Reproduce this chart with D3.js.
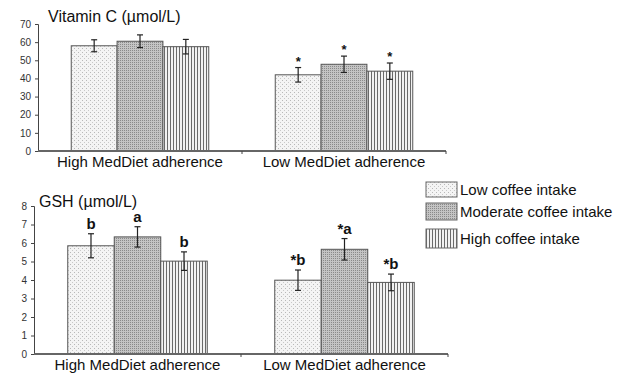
<!DOCTYPE html>
<html>
<head>
<meta charset="utf-8">
<script src="https://cdn.jsdelivr.net/npm/d3@7"></script>
<style>
  body { margin: 0; background: #fff; }
  text { font-family: "Liberation Sans", Arial, sans-serif; }
</style>
</head>
<body>
<script>
// data
var groups = ["High MedDiet adherence", "Low MedDiet adherence"];
var series = ["Low coffee intake", "Moderate coffee intake", "High coffee intake"];

var vitcValues = [[58, 60.5, 57.5], [42, 47.8, 44]];
var vitcErrors = [[3.3, 3.5, 4], [4, 4.5, 4.5]];
var vitcMarks = [["", "", ""], ["*", "*", "*"]];
var vitcTicks = [0, 10, 20, 30, 40, 50, 60, 70];

var gshValues = [[5.85, 6.33, 5.02], [3.99, 5.66, 3.87]];
var gshErrors = [[0.65, 0.55, 0.5], [0.55, 0.58, 0.45]];
var gshMarks = [["b", "a", "b"], ["*b", "*a", "*b"]];
var gshTicks = [0, 1, 2, 3, 4, 5, 6, 7, 8];

var patIds = ["pLow", "pMod", "pHigh"];

var svg = d3.select("body").append("svg")
    .attr("width", 620)
    .attr("height", 374);

// fill patterns
var defs = svg.append("defs");
var p1 = defs.append("pattern").attr("id", "pLow")
    .attr("patternUnits", "userSpaceOnUse").attr("width", 4).attr("height", 4);
p1.append("rect").attr("width", 4).attr("height", 4).attr("fill", "#f4f4f4");
p1.append("rect").attr("x", 0).attr("y", 0).attr("width", 1).attr("height", 1).attr("fill", "#b8b8b8");
p1.append("rect").attr("x", 2).attr("y", 2).attr("width", 1).attr("height", 1).attr("fill", "#c8c8c8");

var p2 = defs.append("pattern").attr("id", "pMod")
    .attr("patternUnits", "userSpaceOnUse").attr("width", 2).attr("height", 2);
p2.append("rect").attr("width", 2).attr("height", 2).attr("fill", "#c4c4c4");
p2.append("rect").attr("x", 0).attr("y", 0).attr("width", 1).attr("height", 1).attr("fill", "#8a8a8a");

var p3 = defs.append("pattern").attr("id", "pHigh")
    .attr("patternUnits", "userSpaceOnUse").attr("width", 3).attr("height", 3);
p3.append("rect").attr("width", 3).attr("height", 3).attr("fill", "#f2f2f2");
p3.append("rect").attr("x", 0).attr("width", 1).attr("height", 3).attr("fill", "#6a6a6a");

function panel(opt) {
    var x0 = d3.scaleBand().domain(groups).range([opt.left, opt.right]);
    var pad = x0.bandwidth() * 0.163;
    var x1 = d3.scaleBand().domain(series).range([pad, x0.bandwidth() - pad]);
    var y = d3.scaleLinear().domain([0, opt.max]).range([opt.bottom, opt.top]);

    var g = svg.append("g");

    // y axis
    var ya = g.append("g")
        .attr("transform", "translate(" + opt.left + ",0)")
        .call(d3.axisLeft(y).tickValues(opt.ticks).tickSize(3).tickPadding(4));
    ya.select(".domain").attr("stroke", "#444");
    ya.selectAll(".tick line").attr("stroke", "#444");
    ya.selectAll(".tick text").attr("fill", "#333").style("font-size", "10px");

    // title
    g.append("text")
        .attr("x", opt.titleX).attr("y", opt.titleY)
        .style("font-size", "16px").attr("fill", "#111")
        .text(opt.title);

    // bars
    groups.forEach(function (grp, gi) {
        var gg = g.append("g").attr("transform", "translate(" + x0(grp) + ",0)");
        var rows = series.map(function (s, si) {
            return { s: s, i: si, v: opt.values[gi][si], e: opt.errors[gi][si], m: opt.marks[gi][si] };
        });
        gg.selectAll("rect.bar").data(rows).enter().append("rect")
            .attr("class", "bar")
            .attr("x", function (d) { return x1(d.s); })
            .attr("y", function (d) { return y(d.v); })
            .attr("width", x1.bandwidth())
            .attr("height", function (d) { return y(0) - y(d.v); })
            .attr("fill", function (d) { return "url(#" + patIds[d.i] + ")"; })
            .attr("stroke", "#555").attr("stroke-width", 1);

        var cx = function (d) { return x1(d.s) + x1.bandwidth() / 2; };
        var eb = gg.selectAll("g.err").data(rows).enter().append("g").attr("class", "err");
        eb.append("line")
            .attr("x1", cx).attr("x2", cx)
            .attr("y1", function (d) { return y(d.v + d.e); })
            .attr("y2", function (d) { return y(d.v - d.e); })
            .attr("stroke", "#222").attr("stroke-width", 1.2);
        [1, -1].forEach(function (sg) {
            eb.append("line")
                .attr("x1", function (d) { return cx(d) - 3; })
                .attr("x2", function (d) { return cx(d) + 3; })
                .attr("y1", function (d) { return y(d.v + sg * d.e); })
                .attr("y2", function (d) { return y(d.v + sg * d.e); })
                .attr("stroke", "#222").attr("stroke-width", 1.2);
        });
        eb.append("text")
            .attr("x", cx)
            .attr("y", function (d) { return y(d.v + d.e) - opt.markGap; })
            .attr("text-anchor", "middle")
            .style("font-size", opt.markSize + "px")
            .style("font-weight", "bold")
            .attr("fill", "#111")
            .text(function (d) { return d.m; });

        // category label
        g.append("text")
            .attr("x", x0(grp) + x0.bandwidth() / 2)
            .attr("y", opt.bottom + 16)
            .attr("text-anchor", "middle")
            .style("font-size", "15px")
            .attr("fill", "#111")
            .text(grp);
    });

    // x axis line
    g.append("line")
        .attr("x1", opt.left).attr("x2", opt.right)
        .attr("y1", y(0)).attr("y2", y(0))
        .attr("stroke", "#666").attr("stroke-width", 2);
    g.selectAll("line.xt").data(groups).enter().append("line")
        .attr("class", "xt")
        .attr("x1", function (d) { return x0(d) + x0.bandwidth(); })
        .attr("x2", function (d) { return x0(d) + x0.bandwidth(); })
        .attr("y1", y(0)).attr("y2", y(0) + 3)
        .attr("stroke", "#444");
}

panel({
    left: 38, right: 446, top: 24, bottom: 151, max: 70,
    ticks: vitcTicks, values: vitcValues, errors: vitcErrors, marks: vitcMarks,
    title: "Vitamin C (µmol/L)", titleX: 48, titleY: 22, markGap: 2, markSize: 13
});

panel({
    left: 34, right: 448, top: 206, bottom: 354, max: 8,
    ticks: gshTicks, values: gshValues, errors: gshErrors, marks: gshMarks,
    title: "GSH (µmol/L)", titleX: 39, titleY: 207, markGap: 5, markSize: 15
});

// legend
var leg = svg.append("g");
var legY = [182, 203, 229];
var legH = [15, 17, 19];
series.forEach(function (s, i) {
    leg.append("rect")
        .attr("x", 426).attr("y", legY[i])
        .attr("width", 31).attr("height", legH[i])
        .attr("fill", "url(#" + patIds[i] + ")")
        .attr("stroke", "#666");
    leg.append("text")
        .attr("x", 460).attr("y", legY[i] + legH[i] / 2 + 5)
        .style("font-size", "15px").attr("fill", "#111")
        .text(s);
});
</script>
</body>
</html>
